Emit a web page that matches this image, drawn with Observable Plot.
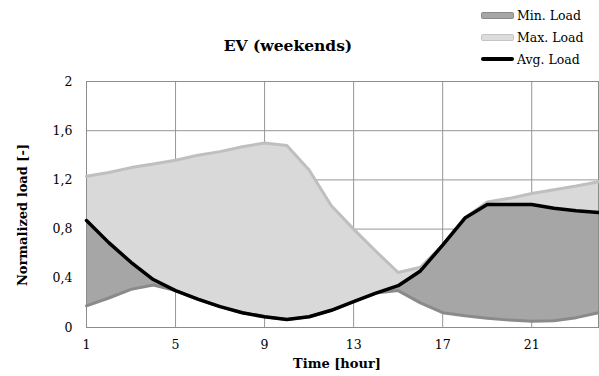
<!DOCTYPE html>
<html>
<head>
<meta charset="utf-8">
<script src="https://cdn.jsdelivr.net/npm/d3@7"></script>
<script src="https://cdn.jsdelivr.net/npm/@observablehq/plot@0.6"></script>
<style>
  body { margin: 0; background: #fff; }
  #wrap { position: relative; width: 599px; height: 376px; font-family: "DejaVu Serif", serif; }
  .lbl { position: absolute; font-weight: bold; white-space: nowrap; transform: translate(-50%, -50%); }
  .leg { position: absolute; left: 481px; height: 16px; display: flex; align-items: center; font-size: 12.5px; white-space: nowrap; }
  .sw { width: 33px; height: 7px; margin-right: 3px; box-sizing: border-box; border-radius: 1.5px; }
</style>
</head>
<body>
<div id="wrap">
  <div id="chart"></div>
  <div class="lbl" style="left:288px;top:45px;font-size:15.5px">EV (weekends)</div>
  <div class="lbl" style="left:337px;top:363px;font-size:13px">Time [hour]</div>
  <div class="lbl" style="left:22px;top:215px;font-size:13px;transform:translate(-50%,-50%) rotate(-90deg)">Normalized load [-]</div>
  <div class="leg" style="top:7px"><div class="sw" style="background:#a6a6a6;border:1.5px solid #8a8a8a"></div>Min. Load</div>
  <div class="leg" style="top:29px"><div class="sw" style="background:#dcdcdc;border:1.5px solid #c4c4c4"></div>Max. Load</div>
  <div class="leg" style="top:51px"><div class="sw" style="background:#000;height:4px;border-radius:2px"></div>Avg. Load</div>
</div>
<script>
const hours = [1,2,3,4,5,6,7,8,9,10,11,12,13,14,15,16,17,18,19,20,21,22,23,24];
const avgLoad = [0.87,0.69,0.53,0.39,0.30,0.23,0.17,0.12,0.087,0.065,0.087,0.14,0.21,0.28,0.34,0.46,0.67,0.89,1.0,1.0,1.0,0.97,0.95,0.935];
const minLoad = [0.176,0.24,0.31,0.345,0.30,0.23,0.17,0.12,0.087,0.065,0.087,0.14,0.21,0.28,0.30,0.20,0.12,0.095,0.076,0.06,0.05,0.055,0.08,0.12];
const maxLoad = [1.23,1.26,1.30,1.33,1.36,1.40,1.43,1.47,1.50,1.48,1.28,0.99,0.80,0.62,0.447,0.49,0.67,0.89,1.02,1.05,1.09,1.12,1.15,1.185];
const xTicks = [1,5,9,13,17,21];
const yTicks = [0,0.4,0.8,1.2,1.6,2];

const rows = hours.map((h, i) => ({h, avg: avgLoad[i], min: minLoad[i], max: maxLoad[i]}));
const fmt = d => String(d).replace(".", ",");

const chart = Plot.plot({
  width: 599,
  height: 376,
  marginLeft: 86,
  marginRight: 1,
  marginTop: 81,
  marginBottom: 49,
  style: {fontFamily: "DejaVu Serif, serif", fontSize: "12.5px", color: "#000", background: "#fff"},
  x: {domain: [1, 24], ticks: xTicks, tickSize: 0, tickPadding: 13, label: null},
  y: {domain: [0, 2], ticks: yTicks, tickSize: 0, tickPadding: 14, tickFormat: fmt, label: null},
  marks: [
    Plot.gridX(xTicks, {stroke: "#969696", strokeOpacity: 1}),
    Plot.gridY(yTicks, {stroke: "#969696", strokeOpacity: 1}),
    Plot.areaY(rows, {x: "h", y1: "avg", y2: "max", fill: "#d9d9d9"}),
    Plot.areaY(rows, {x: "h", y1: "min", y2: "avg", fill: "#a6a6a6"}),
    Plot.frame({stroke: "#8c8c8c"}),
    Plot.lineY(rows, {x: "h", y: "max", stroke: "#bfbfbf", strokeWidth: 3}),
    Plot.lineY(rows, {x: "h", y: "min", stroke: "#8a8a8a", strokeWidth: 3}),
    Plot.lineY(rows, {x: "h", y: "avg", stroke: "#000", strokeWidth: 3.5})
  ]
});
document.getElementById("chart").appendChild(chart);
</script>
</body>
</html>
